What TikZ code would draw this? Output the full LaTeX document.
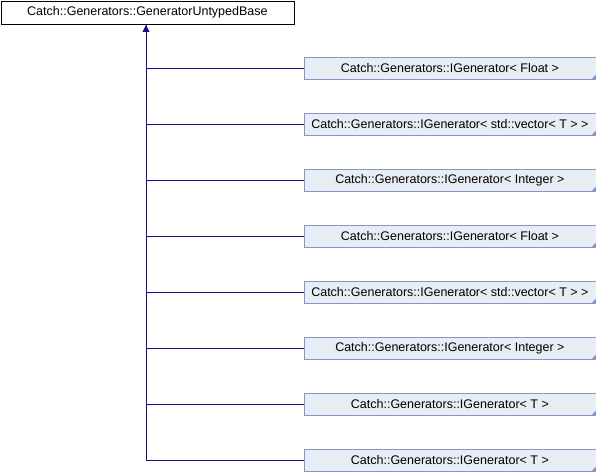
\documentclass[tikz,border=0pt]{standalone}
\usepackage{fontspec}
\setmainfont{Liberation Sans}
\begin{document}
\begin{tikzpicture}[x=1pt,y=-1pt,
  basebox/.style={draw=black,fill=white,line width=0.8pt,minimum width=293pt,minimum height=23pt,inner sep=0pt,anchor=north west,font=\fontsize{12.5}{14}\selectfont},
  childbox/.style={draw=boxborder,fill=boxfill,line width=0.8pt,minimum width=292pt,minimum height=22pt,inner sep=0pt,anchor=west,font=\fontsize{12.5}{14}\selectfont},
  conn/.style={draw=linecol,line width=0.9pt},
  corner/.style={fill=boxborder,draw=none}]
\definecolor{boxborder}{HTML}{8497C8}
\definecolor{boxfill}{HTML}{E8ECF5}
\definecolor{linecol}{HTML}{10108A}
\useasboundingbox (0,0) rectangle (596,472);
\node[basebox] (base) at (0.5,0.5) {Catch::Generators::GeneratorUntypedBase};
\coordinate (trunk) at (146,460);
\coordinate (tip) at (base.south -| trunk);
\foreach \i/\t in {0/{Catch::Generators::IGenerator< Float >},
                   1/{Catch::Generators::IGenerator< std::vector< T > >},
                   2/{Catch::Generators::IGenerator< Integer >},
                   3/{Catch::Generators::IGenerator< Float >},
                   4/{Catch::Generators::IGenerator< std::vector< T > >},
                   5/{Catch::Generators::IGenerator< Integer >},
                   6/{Catch::Generators::IGenerator< T >},
                   7/{Catch::Generators::IGenerator< T >}} {
  \node[childbox] (c\i) at (303.5,68+56*\i) {\t};
  \fill[corner] (c\i.south east) -- ++(0,-5) -- ++(-5,5) -- cycle;
  \coordinate (j\i) at (146,68+56*\i);
  \draw[conn] (j\i) -- (c\i.west);
}
\draw[conn] (trunk) -- (tip);
\fill[linecol] (tip) ++(0,0.5) -- ++(3.5,7) -- ++(-7,0) -- cycle;
\end{tikzpicture}
\end{document}
